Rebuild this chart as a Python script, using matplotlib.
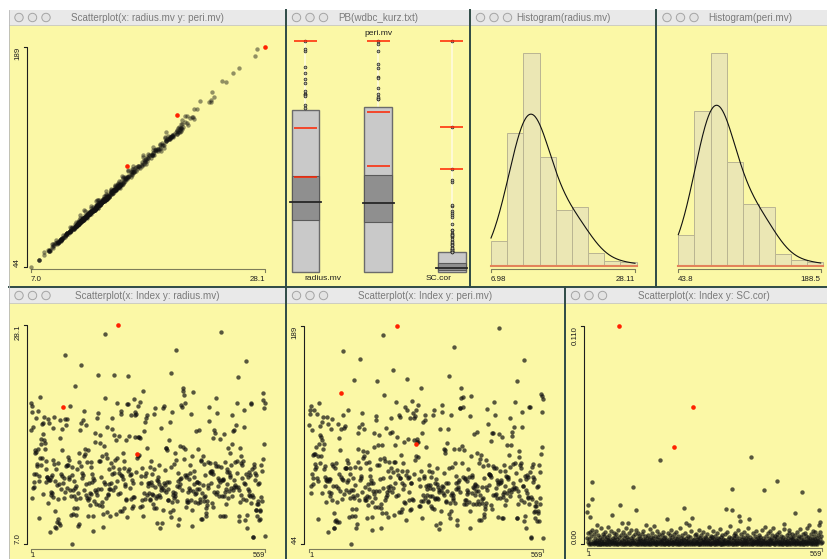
import numpy as np
import matplotlib
matplotlib.use("Agg")
import matplotlib.pyplot as plt
from matplotlib.patches import Rectangle, Circle

# wdbc_kurz.txt: radius.mv, peri.mv and SC.cor for each of the 569 cases
radius = np.array([
    17.99, 20.57, 19.69, 11.42, 20.29, 12.45, 18.25, 13.71, 13.0, 12.46,
    16.02, 15.78, 19.17, 15.85, 13.73, 14.54, 14.68, 16.13, 19.81, 13.54,
    13.08, 9.504, 15.34, 21.16, 16.65, 17.14, 14.58, 18.61, 15.3, 17.57,
    18.63, 11.84, 17.02, 19.27, 16.13, 16.74, 14.25, 13.03, 14.99, 13.48,
    13.44, 10.95, 19.07, 13.28, 13.17, 18.65, 8.196, 13.17, 12.05, 13.49,
    11.76, 13.64, 11.94, 18.22, 15.1, 11.52, 19.21, 14.71, 13.05, 8.618,
    10.17, 8.598, 14.25, 9.173, 12.68, 14.78, 9.465, 11.31, 9.029, 12.78,
    18.94, 8.888, 17.2, 13.8, 12.31, 16.07, 13.53, 18.05, 20.18, 12.86,
    11.45, 13.34, 25.22, 19.1, 12.0, 18.46, 14.48, 19.02, 12.36, 14.64,
    14.62, 15.37, 13.27, 13.45, 15.06, 20.26, 12.18, 9.787, 11.6, 14.42,
    13.61, 6.981, 12.18, 9.876, 10.49, 13.11, 11.64, 12.36, 22.27, 11.34,
    9.777, 12.63, 14.26, 10.51, 8.726, 11.93, 8.95, 14.87, 15.78, 17.95,
    11.41, 18.66, 24.25, 14.5, 13.37, 13.85, 13.61, 19.0, 19.79, 12.19,
    15.46, 16.16, 15.71, 18.45, 12.77, 11.71, 11.43, 14.95, 11.28, 9.738,
    16.11, 11.43, 12.9, 10.75, 11.9, 11.8, 14.95, 14.44, 13.74, 13.0,
    13.4, 8.219, 9.731, 11.15, 13.15, 12.25, 17.68, 16.84, 12.06, 10.9,
    11.75, 19.19, 19.59, 12.34, 23.27, 14.97, 10.8, 16.78, 17.47, 14.97,
    12.32, 13.43, 15.46, 11.08, 10.66, 8.671, 9.904, 16.46, 13.01, 12.81,
    27.22, 21.09, 15.7, 11.41, 15.28, 10.08, 18.31, 11.71, 11.81, 12.3,
    14.22, 12.77, 9.72, 12.34, 14.86, 12.91, 13.77, 18.08, 19.18, 14.45,
    12.23, 17.54, 23.29, 13.81, 12.47, 15.12, 9.876, 17.01, 13.11, 15.27,
    20.58, 11.84, 28.11, 17.42, 14.19, 13.86, 11.89, 10.2, 19.8, 19.53,
    13.65, 13.56, 10.18, 15.75, 13.27, 14.34, 10.44, 15.0, 12.62, 12.83,
    17.05, 11.32, 11.22, 20.51, 9.567, 14.03, 23.21, 20.48, 14.22, 17.46,
    13.64, 12.42, 11.3, 13.75, 19.4, 10.48, 13.2, 12.89, 10.65, 11.52,
    20.94, 11.5, 19.73, 17.3, 19.45, 13.96, 19.55, 15.32, 15.66, 15.53,
    20.31, 17.35, 17.29, 15.61, 17.19, 20.73, 10.6, 13.59, 12.87, 10.71,
    14.29, 11.29, 21.75, 9.742, 17.93, 11.89, 11.33, 18.81, 13.59, 13.85,
    19.16, 11.74, 19.4, 16.24, 12.89, 12.58, 11.94, 12.89, 11.26, 11.37,
    14.41, 14.96, 12.95, 11.85, 12.72, 13.77, 10.91, 11.76, 14.26, 10.51,
    19.53, 12.46, 20.09, 10.49, 11.46, 11.6, 13.2, 9.0, 13.5, 13.05,
    11.7, 14.61, 12.76, 11.54, 8.597, 12.49, 12.18, 18.22, 9.042, 12.43,
    10.25, 20.16, 12.86, 20.34, 12.2, 12.67, 14.11, 12.03, 16.27, 16.26,
    16.03, 12.98, 11.22, 11.25, 12.3, 17.06, 12.99, 18.77, 10.05, 23.51,
    14.42, 9.606, 11.06, 19.68, 11.71, 10.26, 12.06, 14.76, 11.47, 11.95,
    11.66, 15.75, 25.73, 15.08, 11.14, 12.56, 13.05, 13.87, 8.878, 9.436,
    12.54, 13.3, 12.76, 16.5, 13.4, 20.44, 20.2, 12.21, 21.71, 22.01,
    16.35, 15.19, 21.37, 20.64, 13.69, 16.17, 10.57, 13.46, 13.66, 11.08,
    11.27, 11.04, 12.05, 12.39, 13.28, 14.6, 12.21, 13.88, 11.27, 19.55,
    10.26, 8.734, 15.49, 21.61, 12.1, 14.06, 13.51, 12.8, 11.06, 11.8,
    17.91, 11.93, 12.96, 12.94, 12.34, 10.94, 16.14, 12.85, 17.99, 12.27,
    11.36, 11.04, 9.397, 14.99, 15.13, 11.89, 9.405, 15.5, 12.7, 11.16,
    11.57, 14.69, 11.61, 13.66, 9.742, 10.03, 10.48, 10.8, 11.13, 12.72,
    14.9, 12.4, 20.18, 18.82, 14.86, 13.98, 12.87, 14.04, 13.85, 14.02,
    10.97, 17.27, 13.78, 10.57, 18.03, 11.99, 17.75, 14.8, 14.53, 21.1,
    11.87, 19.59, 12.0, 14.53, 12.62, 13.38, 11.63, 13.21, 13.0, 9.755,
    17.08, 27.42, 14.4, 11.6, 13.17, 13.24, 13.14, 9.668, 17.6, 11.62,
    9.667, 12.04, 14.92, 12.27, 10.88, 12.83, 14.2, 13.9, 11.49, 16.25,
    12.16, 13.9, 13.47, 13.7, 15.73, 12.45, 14.64, 19.44, 11.68, 16.69,
    12.25, 17.85, 18.01, 12.46, 13.16, 14.87, 12.65, 12.47, 18.49, 20.59,
    15.04, 13.82, 12.54, 23.09, 9.268, 9.676, 12.22, 11.06, 16.3, 15.46,
    11.74, 14.81, 13.4, 14.58, 15.05, 11.34, 18.31, 19.89, 12.88, 12.75,
    9.295, 24.63, 11.26, 13.71, 9.847, 8.571, 13.46, 12.34, 13.94, 12.07,
    11.75, 11.67, 13.68, 20.47, 10.96, 20.55, 14.27, 11.69, 7.729, 7.691,
    11.54, 14.47, 14.74, 13.21, 13.87, 13.62, 10.32, 10.26, 9.683, 10.82,
    10.86, 11.13, 12.77, 9.333, 12.88, 10.29, 10.16, 9.423, 14.59, 11.51,
    14.05, 11.2, 15.22, 20.92, 21.56, 20.13, 16.6, 20.6, 7.76,
])

peri = np.array([
    122.8, 132.9, 130.0, 77.58, 135.1, 82.57, 119.6, 90.2, 87.5, 83.97,
    102.7, 103.6, 132.4, 103.7, 93.6, 96.73, 94.74, 108.1, 130.0, 87.46,
    85.63, 60.34, 102.5, 137.2, 110.0, 116.0, 97.41, 122.1, 102.4, 115.0,
    124.8, 77.93, 112.8, 127.9, 107.0, 110.1, 93.63, 82.61, 95.54, 88.4,
    86.18, 71.9, 128.3, 87.32, 85.42, 123.7, 51.71, 85.98, 78.29, 86.91,
    75.75, 87.21, 77.42, 120.3, 97.26, 73.34, 126.5, 95.55, 82.61, 54.34,
    64.55, 54.66, 94.37, 59.2, 82.69, 97.4, 60.11, 71.8, 58.79, 81.37,
    123.6, 58.79, 114.2, 90.43, 79.19, 106.2, 88.12, 120.3, 143.7, 87.32,
    73.81, 86.49, 171.5, 129.1, 76.95, 121.1, 94.25, 122.0, 79.78, 94.48,
    94.15, 99.58, 84.74, 86.6, 97.65, 132.5, 78.6, 62.1, 74.3, 94.5,
    90.4, 43.79, 80.0, 62.8, 67.4, 87.5, 75.8, 79.8, 152.8, 74.7,
    62.5, 83.1, 94.7, 67.2, 54.7, 76.5, 57.5, 98.6, 107.0, 117.4,
    73.3, 121.4, 166.2, 94.3, 86.2, 88.7, 87.8, 123.7, 130.4, 78.6,
    101.2, 105.8, 102.5, 120.2, 81.7, 74.7, 73.1, 97.8, 73.0, 61.1,
    104.6, 75.5, 83.9, 69.9, 80.2, 75.3, 98.2, 93.9, 88.7, 84.1,
    86.5, 53.3, 61.9, 71.5, 84.7, 78.8, 117.4, 108.4, 76.8, 68.7,
    74.3, 126.3, 128.9, 78.9, 152.1, 96.2, 68.8, 109.3, 116.1, 96.4,
    78.8, 86.9, 100.2, 70.2, 67.9, 54.4, 64.6, 109.3, 87.9, 81.3,
    182.1, 142.7, 101.2, 72.9, 98.9, 64.4, 120.8, 75.0, 76.1, 78.6,
    92.6, 81.9, 61.6, 79.5, 98.4, 82.5, 88.5, 117.4, 127.2, 94.2,
    78.5, 117.8, 158.9, 91.6, 81.1, 98.2, 62.9, 109.7, 84.1, 98.2,
    137.8, 75.5, 188.5, 114.5, 92.9, 89.8, 76.2, 65.1, 129.1, 128.0,
    87.8, 88.0, 65.0, 102.6, 84.6, 92.5, 66.9, 97.5, 80.6, 82.9,
    111.2, 71.8, 71.4, 134.7, 60.2, 89.8, 153.5, 132.5, 92.6, 113.4,
    87.4, 78.6, 73.0, 88.5, 127.7, 66.7, 84.1, 84.5, 67.4, 73.9,
    138.9, 73.3, 130.7, 113.0, 127.6, 90.2, 128.7, 99.6, 110.2, 102.2,
    132.7, 111.6, 113.8, 101.7, 111.4, 135.7, 69.3, 86.9, 82.4, 69.3,
    92.6, 72.7, 147.3, 61.5, 117.5, 76.3, 72.2, 125.0, 87.8, 88.9,
    126.2, 74.7, 129.7, 108.0, 82.7, 80.4, 76.4, 83.1, 71.8, 72.5,
    92.3, 96.6, 83.2, 75.5, 81.3, 88.6, 69.2, 75.9, 91.8, 67.5,
    129.1, 80.4, 132.7, 66.9, 73.6, 74.3, 84.1, 56.4, 87.0, 83.7,
    74.7, 94.3, 81.8, 73.7, 54.1, 79.7, 78.6, 120.3, 58.2, 79.5,
    65.7, 131.1, 82.5, 135.9, 78.0, 81.9, 90.7, 76.1, 106.9, 106.0,
    104.5, 84.1, 71.9, 72.2, 78.9, 111.0, 84.1, 120.2, 63.6, 155.1,
    94.2, 61.1, 71.2, 129.7, 76.1, 65.8, 77.6, 94.9, 73.4, 76.5,
    74.7, 107.1, 174.2, 97.9, 71.2, 80.6, 84.5, 89.1, 56.7, 59.9,
    80.6, 85.3, 81.5, 106.6, 86.4, 133.8, 133.7, 78.3, 140.9, 147.2,
    109.0, 97.7, 141.3, 134.4, 88.1, 106.4, 70.2, 87.2, 87.8, 73.3,
    73.0, 70.7, 77.2, 79.8, 85.8, 93.6, 78.3, 88.4, 71.9, 128.9,
    65.9, 54.3, 102.4, 142.0, 77.6, 89.8, 88.1, 81.8, 70.3, 80.8,
    117.1, 76.2, 83.7, 83.2, 79.1, 70.4, 104.2, 82.7, 118.4, 78.8,
    72.5, 70.7, 59.8, 97.5, 100.2, 76.7, 59.6, 102.9, 81.4, 71.4,
    73.9, 95.8, 74.5, 87.8, 61.9, 63.8, 67.2, 69.0, 71.3, 81.4,
    99.9, 79.8, 133.2, 123.7, 96.2, 90.5, 82.9, 90.0, 89.4, 89.9,
    70.0, 112.4, 88.4, 67.4, 117.4, 76.3, 117.3, 95.8, 94.0, 138.1,
    76.2, 129.1, 76.8, 94.3, 81.2, 86.1, 74.6, 84.9, 83.5, 61.9,
    117.0, 186.9, 92.5, 74.7, 84.3, 86.2, 85.0, 61.1, 115.0, 75.2,
    61.5, 76.9, 96.4, 78.5, 69.5, 82.7, 92.4, 88.7, 73.3, 109.8,
    77.9, 88.4, 87.2, 88.6, 102.8, 80.0, 95.0, 127.7, 75.5, 109.7,
    78.6, 115.2, 118.3, 80.6, 84.1, 96.9, 81.4, 80.4, 121.3, 137.8,
    97.3, 91.2, 81.3, 152.1, 61.5, 61.0, 78.9, 70.5, 105.8, 101.7,
    75.5, 96.4, 86.6, 94.2, 97.3, 72.8, 121.4, 131.1, 82.7, 82.2,
    59.3, 165.5, 71.8, 88.8, 62.5, 54.5, 86.9, 79.8, 89.8, 77.6,
    75.2, 74.7, 88.1, 134.7, 70.2, 134.7, 91.4, 74.9, 47.98, 48.34,
    73.7, 94.9, 96.7, 84.9, 88.6, 87.2, 65.3, 65.9, 61.5, 68.9,
    68.9, 71.5, 81.4, 59.0, 82.5, 65.8, 64.7, 59.3, 96.0, 74.5,
    91.4, 70.7, 103.4, 143.0, 142.0, 131.2, 108.3, 140.1, 47.92,
])

sc_cor = np.array([
    0.0031, 0.0164, 0.0201, 0.0012, 0.0058, 0.0004, 0.0027, 0.0009, 0.0136, 0.0061,
    0.0043, 0.0002, 0.0312, 0.0228, 0.0071, 0.0006, 0.0018, 0.0004, 0.0052, 0.0011,
    0.0008, 0.0035, 0.0015, 0.0066, 0.0099, 0.0003, 0.0024, 0.0001, 0.0047, 0.0013,
    0.0021, 0.0005, 0.0038, 0.0002, 0.0081, 0.0016, 0.0007, 0.0029, 0.0001, 0.0055,
    0.0010, 0.0044, 0.0003, 0.0019, 0.0062, 0.0008, 0.0026, 0.0002, 0.0013, 0.0037,
    0.0005, 0.0022, 0.0089, 0.0001, 0.0016, 0.0049, 0.0030, 0.0004, 0.0011, 0.0069,
    0.0018, 0.0149, 0.0006, 0.0033, 0.0002, 0.0057, 0.0012, 0.0024, 0.0040, 0.0003,
    0.0015, 0.0052, 0.0009, 0.0001, 0.0028, 0.0075, 0.0004, 0.0019, 0.1100, 0.0036,
    0.0007, 0.0200, 0.0014, 0.0046, 0.0002, 0.0023, 0.0110, 0.0005, 0.0063, 0.0017,
    0.0001, 0.0031, 0.0010, 0.0048, 0.0003, 0.0085, 0.0020, 0.0006, 0.0039, 0.0012,
    0.0107, 0.0027, 0.0004, 0.0058, 0.0015, 0.0001, 0.0034, 0.0009, 0.0072, 0.0021,
    0.0003, 0.0290, 0.0013, 0.0044, 0.0006, 0.0025, 0.0002, 0.0051, 0.0171, 0.0074,
    0.0008, 0.0030, 0.0001, 0.0018, 0.0060, 0.0004, 0.0011, 0.0041, 0.0022, 0.0002,
    0.0035, 0.0007, 0.0016, 0.0054, 0.0003, 0.0028, 0.0010, 0.0066, 0.0001, 0.0019,
    0.0045, 0.0005, 0.0024, 0.0012, 0.0099, 0.0002, 0.0033, 0.0008, 0.0050, 0.0014,
    0.0004, 0.0027, 0.0079, 0.0001, 0.0017, 0.0039, 0.0009, 0.0022, 0.0003, 0.0056,
    0.0012, 0.0032, 0.0006, 0.0094, 0.0020, 0.0002, 0.0043, 0.0015, 0.0005, 0.0068,
    0.0026, 0.0001, 0.0011, 0.0037, 0.0007, 0.0053, 0.0018, 0.0003, 0.0426, 0.0029,
    0.0014, 0.0048, 0.0002, 0.0021, 0.0062, 0.0009, 0.0034, 0.0004, 0.0016, 0.0001,
    0.0040, 0.0010, 0.0025, 0.0006, 0.0129, 0.0019, 0.0003, 0.0057, 0.0013, 0.0030,
    0.0001, 0.0046, 0.0008, 0.0023, 0.0071, 0.0005, 0.0015, 0.0036, 0.0002, 0.0011,
    0.0052, 0.0020, 0.0490, 0.0007, 0.0031, 0.0003, 0.0017, 0.0064, 0.0010, 0.0027,
    0.0004, 0.0042, 0.0012, 0.0001, 0.0024, 0.0083, 0.0006, 0.0035, 0.0018, 0.0002,
    0.0049, 0.0009, 0.0028, 0.0014, 0.0005, 0.0183, 0.0021, 0.0003, 0.0059, 0.0011,
    0.0107, 0.0032, 0.0001, 0.0016, 0.0044, 0.0007, 0.0025, 0.0002, 0.0099, 0.0013,
    0.0038, 0.0004, 0.0019, 0.0067, 0.0008, 0.0134, 0.0022, 0.0001, 0.0690, 0.0030,
    0.0010, 0.0047, 0.0003, 0.0015, 0.0055, 0.0006, 0.0026, 0.0012, 0.0002, 0.0039,
    0.0018, 0.0074, 0.0005, 0.0033, 0.0009, 0.0001, 0.0023, 0.0050, 0.0014, 0.0004,
    0.0029, 0.0011, 0.0061, 0.0002, 0.0020, 0.0040, 0.0007, 0.0016, 0.0003, 0.0034,
    0.0013, 0.0052, 0.0001, 0.0024, 0.0008, 0.0087, 0.0017, 0.0005, 0.0031, 0.0010,
    0.0045, 0.0002, 0.0021, 0.0006, 0.0036, 0.0012, 0.0069, 0.0003, 0.0027, 0.0015,
    0.0004, 0.0041, 0.0009, 0.0022, 0.0001, 0.0058, 0.0018, 0.0032, 0.0007, 0.0011,
    0.0026, 0.0003, 0.0077, 0.0014, 0.0005, 0.0037, 0.0019, 0.0002, 0.0048, 0.0010,
    0.0030, 0.0006, 0.0016, 0.0001, 0.0054, 0.0023, 0.0180, 0.0008, 0.0013, 0.0065,
    0.0004, 0.0028, 0.0011, 0.0039, 0.0002, 0.0020, 0.0092, 0.0007, 0.0034, 0.0015,
    0.0280, 0.0005, 0.0174, 0.0024, 0.0001, 0.0046, 0.0012, 0.0031, 0.0003, 0.0060,
    0.0017, 0.0008, 0.0042, 0.0002, 0.0025, 0.0010, 0.0071, 0.0144, 0.0035, 0.0006,
    0.0019, 0.0120, 0.0003, 0.0051, 0.0013, 0.0001, 0.0029, 0.0009, 0.0040, 0.0016,
    0.0004, 0.0063, 0.0022, 0.0011, 0.0002, 0.0033, 0.0007, 0.0048, 0.0014, 0.0026,
    0.0001, 0.0082, 0.0129, 0.0018, 0.0005, 0.0037, 0.0010, 0.0023, 0.0439, 0.0003,
    0.0030, 0.0012, 0.0056, 0.0002, 0.0020, 0.0008, 0.0043, 0.0015, 0.0001, 0.0027,
    0.0066, 0.0006, 0.0017, 0.0034, 0.0003, 0.0011, 0.0050, 0.0024, 0.0004, 0.0013,
    0.0039, 0.0001, 0.0021, 0.0009, 0.0073, 0.0016, 0.0005, 0.0031, 0.0012, 0.0272,
    0.0003, 0.0089, 0.0025, 0.0007, 0.0044, 0.0014, 0.0002, 0.0058, 0.0019, 0.0010,
    0.0035, 0.0004, 0.0022, 0.0068, 0.0001, 0.0028, 0.0013, 0.0047, 0.0006, 0.0017,
    0.0009, 0.0082, 0.0032, 0.0002, 0.0015, 0.0041, 0.0005, 0.0024, 0.0011, 0.0320,
    0.0053, 0.0036, 0.0003, 0.0019, 0.0007, 0.0062, 0.0014, 0.0001, 0.0029, 0.0010,
    0.0045, 0.0004, 0.0021, 0.0012, 0.0038, 0.0002, 0.0016, 0.0076, 0.0102, 0.0008,
    0.0026, 0.0013, 0.0001, 0.0049, 0.0018, 0.0005, 0.0033, 0.0011, 0.0060, 0.0003,
    0.0072, 0.0022, 0.0007, 0.0040, 0.0015, 0.0002, 0.0027, 0.0055, 0.0009, 0.0034,
    0.0012, 0.0004, 0.0019, 0.0156, 0.0046, 0.0001, 0.0024, 0.0010, 0.0065, 0.0017,
    0.0006, 0.0031, 0.0003, 0.0042, 0.0014, 0.0080, 0.0008, 0.0023, 0.0002, 0.0037,
    0.0262, 0.0011, 0.0051, 0.0005, 0.0020, 0.0001, 0.0030, 0.0013, 0.0057, 0.0007,
    0.0016, 0.0044, 0.0003, 0.0084, 0.0025, 0.0010, 0.0039, 0.0096, 0.0018, 0.0006,
    0.0033, 0.0002, 0.0052, 0.0015, 0.0009, 0.0028, 0.0070, 0.0004, 0.0021, 0.0012,
    0.0041, 0.0001, 0.0026, 0.0063, 0.0008, 0.0017, 0.0035, 0.0003, 0.0048, 0.0019,
    0.0011, 0.0174, 0.0097, 0.0112, 0.0061, 0.0029, 0.0006, 0.0045, 0.0014,
])

# selected (red) cases, 1-based
selected = [79, 213, 259]

# axis end labels
radius_ticks = ["7.0", "28.1"]
peri_ticks = ["44", "189"]
sc_ticks = ["0.00", "0.110"]
index_ticks = ["1", "569"]
radius_hist_ticks = ["6.98", "28.11"]
peri_hist_ticks = ["43.8", "188.5"]

case = np.arange(1, len(radius) + 1)
sel = np.isin(case, selected)

W, H = 828, 559
BODY = "#fbf8a6"
BAR = "#ebe7b4"
FRAME = "#2e4a45"
INK = "#1e1e1e"
RED = "#ff2200"

plt.rcParams["font.family"] = ["Liberation Sans", "DejaVu Sans"]

fig = plt.figure(figsize=(W / 100, H / 100), dpi=100)
fig.patch.set_facecolor("white")
canvas = fig.add_axes([0, 0, 1, 1])
canvas.set_xlim(0, W)
canvas.set_ylim(H, 0)
canvas.axis("off")


def window(x0, y0, x1, y1, title, title_x=None):
    canvas.add_patch(Rectangle((x0, y0), x1 - x0, y1 - y0, fc=BODY, ec="none"))
    canvas.add_patch(Rectangle((x0, y0), x1 - x0, 15, fc="#e9e9e9", ec="none"))
    canvas.plot([x0, x1], [y0 + 15, y0 + 15], color="#c6c6c6", lw=0.6)
    for dx in (10, 23.5, 37):
        canvas.add_patch(Circle((x0 + dx, y0 + 7.5), 4.2, fc="#e3e3e3", ec="#a4a4a4", lw=0.7))
    cx = (x0 + x1) / 2 if title_x is None else title_x
    canvas.text(cx, y0 + 8, title, ha="center", va="center", fontsize=7.1, color="#7a7a7a")


def px_axes(x0, y0, x1, y1):
    ax = fig.add_axes([x0 / W, 1 - y1 / H, (x1 - x0) / W, (y1 - y0) / H])
    ax.axis("off")
    return ax


def y_axis(x, top, bottom, labels):
    canvas.plot([x - 3, x, x, x - 3], [top, top, bottom, bottom], color=INK, lw=0.8)
    canvas.text(x - 9, bottom, labels[0], rotation=90, rotation_mode="anchor",
                ha="left", va="center", fontsize=5.7, color=INK)
    canvas.text(x - 9, top, labels[1], rotation=90, rotation_mode="anchor",
                ha="right", va="center", fontsize=5.7, color=INK)


def x_axis(y, left, right, labels, gap=7, size=5.7):
    canvas.plot([left, left, right, right], [y + 2.5, y, y, y + 2.5], color="#7d7d5a", lw=0.8)
    canvas.text(left, y + gap, labels[0], ha="left", va="top", fontsize=size, color=INK)
    canvas.text(right, y + gap, labels[1], ha="right", va="top", fontsize=size, color=INK)


def scatter(box, x, y, alpha):
    ax = px_axes(*box)
    ax.set_xlim(x.min(), x.max())
    ax.set_ylim(y.min(), y.max())
    ax.scatter(x[~sel], y[~sel], s=10, color="#111111", alpha=alpha, linewidths=0, clip_on=False)
    ax.scatter(x[sel], y[sel], s=11, color=RED, linewidths=0, clip_on=False)


def boxplot(x0, x1, v):
    ax = px_axes(x0, 41, x1, 271.7)
    ax.set_xlim(0, 1)
    ax.set_ylim(v.min(), v.max())
    q1, med, q3 = np.percentile(v, [25, 50, 75])
    iqr = q3 - q1
    hi = v[v <= q3 + 1.5 * iqr].max()
    lo = v[v >= q1 - 1.5 * iqr].min()
    out = v[v > hi]
    ax.plot([0.5, 0.5], [hi, v.max()], color="#fffbe4", lw=1.1, zorder=1)
    ax.add_patch(Rectangle((0, lo), 1, hi - lo, fc="#c9c9c9", ec="#6b6b6b", lw=1.0, clip_on=False))
    ax.add_patch(Rectangle((0, q1), 1, q3 - q1, fc="#8f8f8f", ec="#5a5a5a", lw=0.8, clip_on=False))
    ax.plot([-0.05, 1.05], [med, med], color="#262626", lw=1.3, clip_on=False)
    ax.scatter(np.full(out.size, 0.5), out, s=4, fc="#bdbdaa", ec="#1e1e1e", lw=0.5,
               clip_on=False, zorder=3)
    ax.hlines(v[sel], 0.08, 0.92, color=RED, lw=1.1, zorder=4, clip_on=False)


def histogram(x0, x1, v, bin_w, bw):
    ax = px_axes(x0, 53.3, x1, 265.7)
    edges = v.min() + bin_w * np.arange(10)
    counts, _ = np.histogram(v, bins=edges)
    ax.set_xlim(v.min(), v.max())
    ax.set_ylim(0, counts.max())
    ax.bar(edges[:-1], counts, width=bin_w, align="edge", color=BAR,
           edgecolor="#bab592", lw=0.7, clip_on=False)
    # gaussian kernel density, scaled to counts per bin
    grid = np.linspace(v.min(), v.max(), 300)
    dens = np.exp(-0.5 * ((grid[:, None] - v[None, :]) / bw) ** 2).sum(axis=1) / (bw * np.sqrt(2 * np.pi))
    ax.plot(grid, dens * bin_w, color="#111111", lw=0.8, clip_on=False)
    ax.plot([edges[0], edges[-1]], [0, 0], color="#e3825a", lw=1.5, clip_on=False)


# windows
window(9, 10, 285.5, 287, "Scatterplot(x: radius.mv y: peri.mv)")
window(286.5, 10, 469.5, 287, "PB(wdbc_kurz.txt)")
window(470.5, 10, 656, 287, "Histogram(radius.mv)")
window(657, 10, 840, 287, "Histogram(peri.mv)", 750)
window(9, 288, 285.5, 570, "Scatterplot(x: Index y: radius.mv)")
window(286.5, 288, 564.5, 570, "Scatterplot(x: Index y: peri.mv)")
window(565.5, 288, 840, 570, "Scatterplot(x: Index y: SC.cor)", 703.5)

for x, y0, y1 in [(286, 10, 559), (470, 10, 287), (656.5, 10, 287), (565, 287, 559)]:
    canvas.plot([x, x], [y0, y1], color=FRAME, lw=1.4)
canvas.plot([9, W], [287.3, 287.3], color=FRAME, lw=1.4)
canvas.plot([9, 9], [10, H], color="#b8b8b8", lw=0.6)

# radius vs peri
y_axis(26.7, 46.7, 266.7, peri_ticks)
x_axis(269.3, 30.7, 265, radius_ticks)
scatter((30.7, 46.7, 265, 266.7), radius, peri, 0.45)

# parallel boxplots
boxplot(291.7, 319.3, radius)
boxplot(364.3, 392.3, peri)
boxplot(437.7, 465.7, sc_cor)
canvas.text(323, 279, "radius.mv", ha="center", va="center", fontsize=6.1, color=INK)
canvas.text(378.5, 33.3, "peri.mv", ha="center", va="center", fontsize=6.1, color=INK)
canvas.text(439, 279, "SC.cor", ha="center", va="center", fontsize=6.1, color=INK)

# histograms
histogram(491, 635, radius, 2.375, 2.35)
x_axis(269.3, 491, 635, radius_hist_ticks)
histogram(678.3, 820.7, peri, 16.37, 16.0)
x_axis(269.3, 678.3, 820.7, peri_hist_ticks)

# index plots
y_axis(26.7, 325, 544.3, radius_ticks)
x_axis(549.3, 30.7, 265, index_ticks, gap=3, size=5.3)
scatter((30.7, 325, 265, 544.3), case, radius, 0.7)

y_axis(304, 325.7, 544.3, peri_ticks)
x_axis(549.3, 309.3, 543.3, index_ticks, gap=3, size=5.3)
scatter((309.3, 325.7, 543.3, 544.3), case, peri, 0.7)

y_axis(584, 325.7, 544.3, sc_ticks)
x_axis(548.3, 586.7, 821.7, index_ticks, gap=3, size=5.3)
scatter((586.7, 325.7, 821.7, 544.3), case, sc_cor, 0.7)

fig.savefig("out.png", dpi=100)
